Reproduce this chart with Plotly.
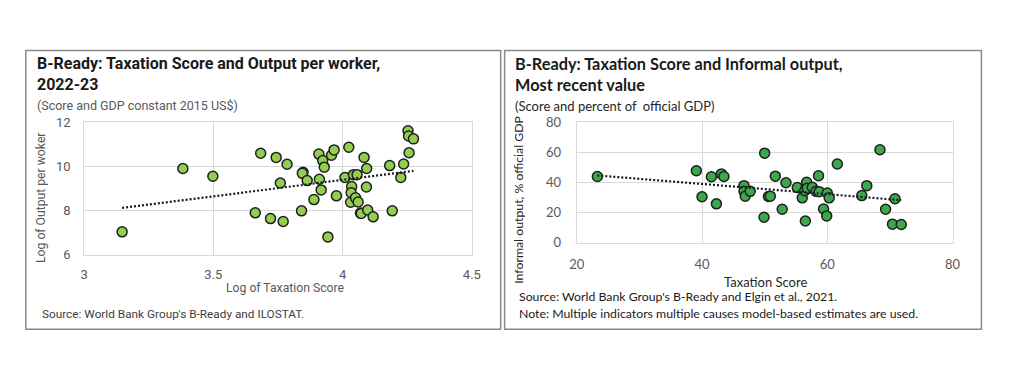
import numpy as np
import plotly.graph_objects as go

# ---------------- DATA ----------------
# Left panel: log taxation score vs log output per worker
left_log_tax = [3.147, 3.382, 3.498, 3.683, 3.662, 3.721, 3.743, 3.759, 3.770, 3.785,
                3.847, 3.844, 3.863, 3.841, 3.889, 3.908, 3.910, 3.917, 3.923, 3.929,
                3.957, 3.967, 3.976, 3.943, 4.009, 4.024, 4.031, 4.035, 4.033, 4.042,
                4.056, 4.050, 4.060, 4.069, 4.072, 4.083, 4.093, 4.092, 4.097, 4.118,
                4.182, 4.192, 4.225, 4.236, 4.253, 4.255, 4.274, 4.257]
left_log_output = [7.04, 9.91, 9.56, 10.60, 7.90, 7.64, 10.41, 9.25, 7.51, 10.10,
                   9.74, 9.69, 9.36, 7.99, 8.50, 10.56, 9.42, 8.94, 10.27, 9.97,
                   10.51, 10.75, 8.67, 6.81, 9.50, 10.87, 8.38, 9.09, 8.81, 9.63,
                   9.63, 8.58, 8.39, 7.89, 7.87, 10.41, 9.91, 9.07, 8.03, 7.72,
                   10.04, 7.99, 9.50, 10.11, 11.62, 11.38, 11.25, 10.62]

# Right panel: taxation score vs informal output (% official GDP)
right_tax_score = [23.3, 39.1, 40.0, 41.5, 43.1, 43.5, 42.3, 46.7, 46.7, 46.9,
                   47.7, 50.0, 49.9, 50.6, 50.9, 51.7, 52.8, 53.4, 55.2, 56.0,
                   56.4, 56.7, 56.5, 56.8, 57.6, 58.2, 58.6, 58.7, 59.4, 59.9,
                   60.0, 60.3, 61.6, 65.5, 66.3, 68.4, 69.3, 70.4, 70.8, 71.8]
right_informal = [44.0, 47.8, 30.5, 43.8, 45.7, 44.0, 25.8, 37.9, 34.1, 30.9,
                  34.1, 59.5, 16.9, 30.7, 30.9, 44.2, 22.2, 39.8, 36.6, 29.8,
                  34.5, 40.2, 14.4, 36.2, 36.8, 34.1, 44.5, 33.9, 22.4, 17.8,
                  33.0, 29.8, 52.3, 31.3, 37.9, 61.8, 22.2, 12.3, 29.2, 12.1]

left_x_ticks = [3, 3.5, 4, 4.5]
left_y_ticks = [6, 8, 10, 12]
right_x_ticks = [20, 40, 60, 80]
right_y_ticks = [0, 20, 40, 60, 80]

# ---------------- LAYOUT HELPERS ----------------
# The page body keeps its default 8px margin, so the figure is sized to fill
# exactly the 1024x373 window together with that margin.
PAGE_W, PAGE_H, M = 1024, 373, 8
W, H = PAGE_W - 2 * M, PAGE_H - 2 * M

def px(x):
    return (x - M) / W

def py(y):
    return 1 - (y - M) / H

def trend(xs, ys):
    xs = np.asarray(xs); ys = np.asarray(ys)
    b, a = np.polyfit(xs, ys, 1)
    tx = np.array([xs.min(), xs.max()])
    return tx, a + b * tx

fig = go.Figure()

# Left scatter + linear trend
fig.add_trace(go.Scatter(
    x=left_log_tax, y=left_log_output, mode="markers",
    marker=dict(size=10, color="#92CF50", line=dict(color="#1f1f1f", width=1.5)),
    xaxis="x", yaxis="y", showlegend=False, hoverinfo="skip"))
tx, ty = trend(left_log_tax, left_log_output)
fig.add_trace(go.Scatter(
    x=tx, y=ty, mode="lines", line=dict(color="#1a1a1a", width=2.2, dash="2px,2px"),
    xaxis="x", yaxis="y", showlegend=False, hoverinfo="skip"))

# Right scatter + linear trend
fig.add_trace(go.Scatter(
    x=right_tax_score, y=right_informal, mode="markers",
    marker=dict(size=10, color="#3CA84C", line=dict(color="#1f1f1f", width=1.5)),
    xaxis="x2", yaxis="y2", showlegend=False, hoverinfo="skip"))
tx2, ty2 = trend(right_tax_score, right_informal)
fig.add_trace(go.Scatter(
    x=tx2, y=ty2, mode="lines", line=dict(color="#1a1a1a", width=2.2, dash="2px,2px"),
    xaxis="x2", yaxis="y2", showlegend=False, hoverinfo="skip"))

grid = "#d9d9d9"
left_font = "Roboto"
right_font = "Lato"

axis_common = dict(showgrid=True, gridcolor=grid, gridwidth=1, zeroline=False,
                   showline=True, linecolor=grid, linewidth=1, mirror=True,
                   ticks="", fixedrange=True)

fig.update_layout(
    width=W, height=H,
    margin=dict(l=0, r=0, t=0, b=0),
    paper_bgcolor="white", plot_bgcolor="white",
    xaxis=dict(domain=[px(77.3), px(471.7)], range=[3, 4.5], tickvals=left_x_ticks,
               ticktext=[str(v) for v in left_x_ticks], anchor="y",
               ticklabelstandoff=8,
               tickfont=dict(family=left_font, size=13, color="#595959"),
               **axis_common),
    yaxis=dict(domain=[py(258), py(119.3)], range=[6, 12], tickvals=left_y_ticks,
               anchor="x", ticklabelstandoff=10,
               tickfont=dict(family=left_font, size=13, color="#595959"),
               **axis_common),
    xaxis2=dict(domain=[px(578.3), px(960.7)], range=[20, 80], tickvals=right_x_ticks,
                anchor="y2", ticklabelstandoff=10,
                tickfont=dict(family=right_font, size=13, color="#595959"),
                **axis_common),
    yaxis2=dict(domain=[py(245.3), py(119.3)], range=[0, 80], tickvals=right_y_ticks,
                anchor="x2", ticklabelstandoff=12,
                tickfont=dict(family=right_font, size=13, color="#595959"),
                **axis_common),
)

# Panel borders
for x0, x1 in [(18, 501), (505, 990)]:
    fig.add_shape(type="rect", xref="paper", yref="paper",
                  x0=px(x0), x1=px(x1), y0=py(336), y1=py(44),
                  line=dict(color="#8a8a8a", width=1.5), fillcolor="rgba(0,0,0,0)")

def text(x, y, s, size, color, family, bold=False, xanchor="left", angle=0):
    fig.add_annotation(xref="paper", yref="paper", x=px(x), y=py(y),
                       xanchor=xanchor, yanchor="middle", showarrow=False,
                       textangle=angle,
                       text=("<b>%s</b>" % s) if bold else s,
                       font=dict(size=size, color=color, family=family))

# Left texts
text(27, 58, "B-Ready: Taxation Score and Output per worker,", 16, "#1a1a1a", left_font, True)
text(27, 80, "2022-23", 16, "#1a1a1a", left_font, True)
text(27, 102, "(Score and GDP constant 2015 US$)", 12.5, "#595959", left_font)
text(282, 293, "Log of Taxation Score", 12.2, "#595959", left_font, xanchor="center")
text(34, 199, "Log of Output per woker", 12.2, "#595959", left_font, xanchor="center", angle=-90)
text(32, 320, "Source: World Bank Group's B-Ready and ILOSTAT.", 11.8, "#404040", left_font)

# Right texts
text(514, 58, "B-Ready: Taxation Score and Informal output,", 16.3, "#1a1a1a", right_font, True)
text(514, 80, "Most recent value", 16.3, "#1a1a1a", right_font, True)
text(514, 102, "(Score and percent of  official GDP)", 13, "#262626", right_font)
text(770, 287, "Taxation Score", 13, "#262626", right_font, xanchor="center")
text(519, 200, "Informal output, % official GDP", 12.3, "#262626", right_font,
     xanchor="center", angle=-90)
text(518, 302, "Source: World Bank Group's B-Ready and Elgin et al., 2021.", 12.3, "#1a1a1a", right_font)
text(518, 319, "Note: Multiple indicators multiple causes model-based estimates are used.", 12.3, "#1a1a1a", right_font)

fig.write_html("out.html", config={"displayModeBar": False})
